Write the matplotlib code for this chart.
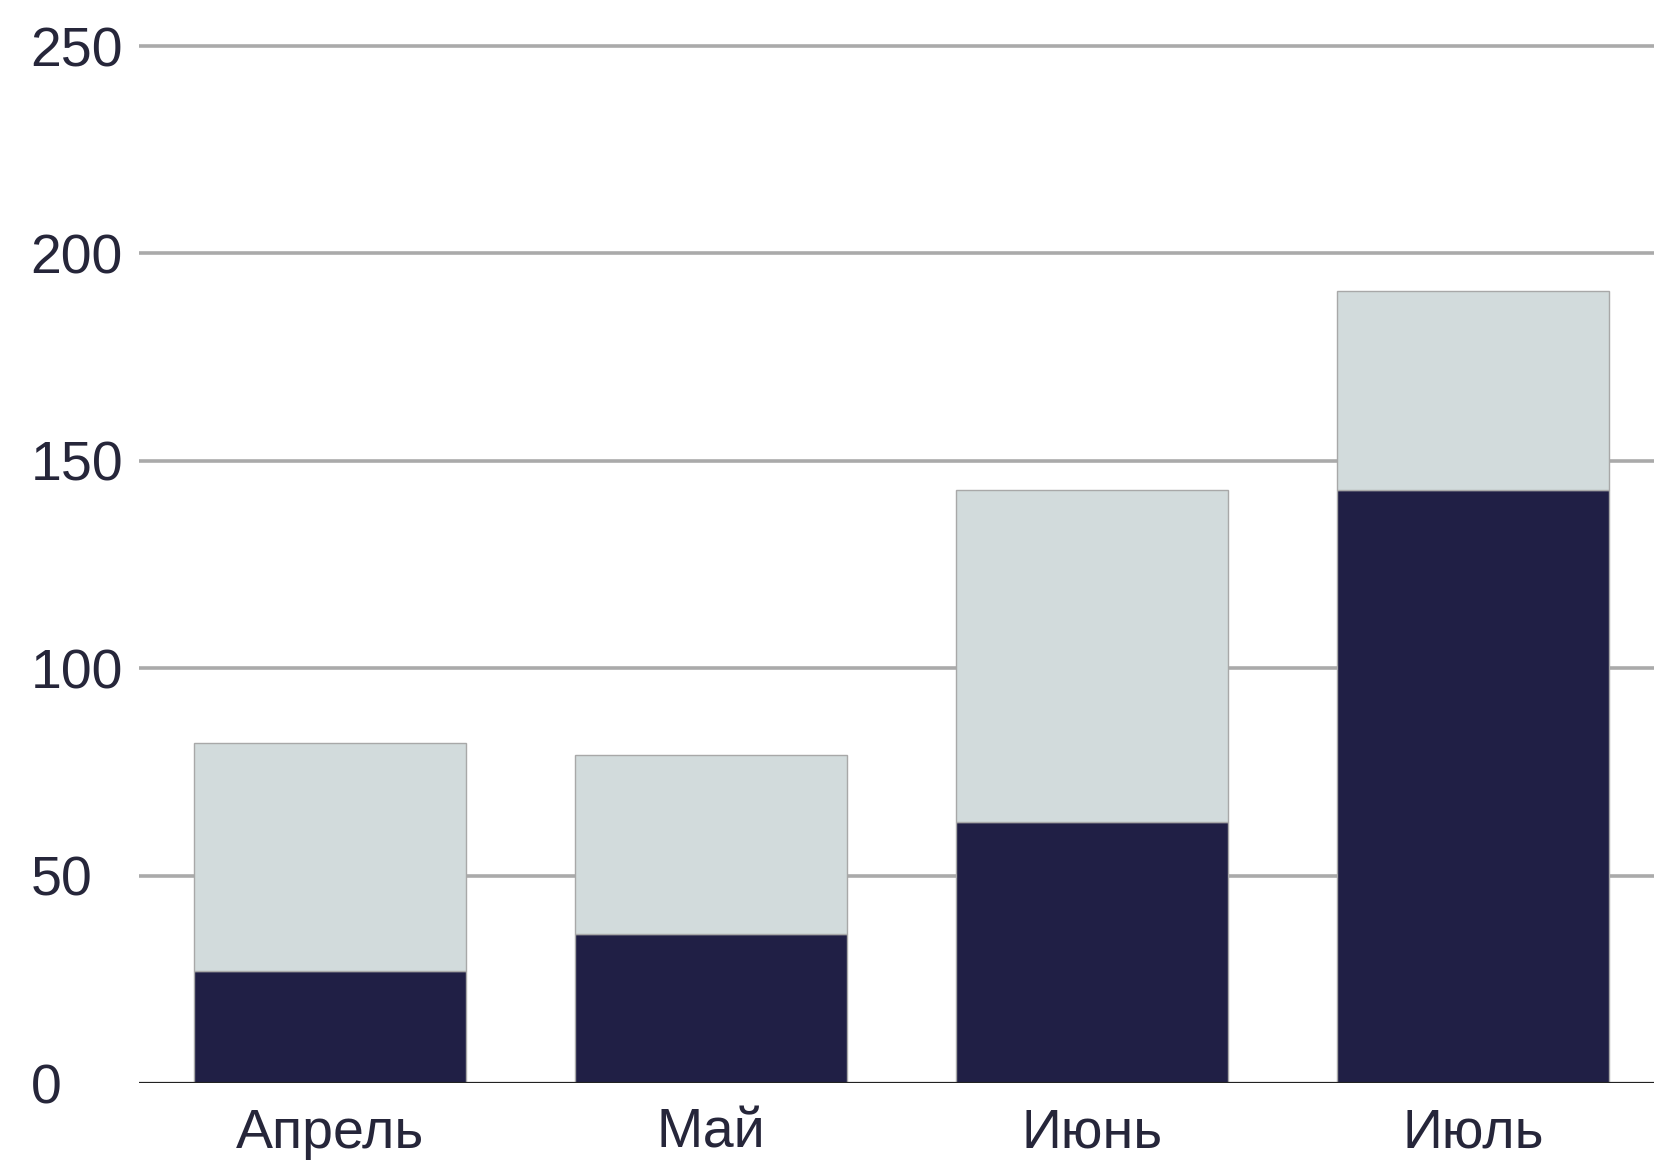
import numpy as np
import matplotlib.pyplot as plt

months = ['Апрель', 'Май', 'Июнь', 'Июль']
dark_vals = [27, 36, 63, 143]
total_vals = [82, 79, 143, 191]
light_vals = [t - d for t, d in zip(total_vals, dark_vals)]
y_ticks = [0, 50, 100, 150, 200, 250]

dark = '#201f45'
light = '#d2dbdc'
edge = '#a8a8a8'
text_col = '#26263a'

plt.rcParams['font.family'] = ['Liberation Sans', 'DejaVu Sans']

fig = plt.figure(figsize=(16.54, 11.61), dpi=100)
ax = fig.add_axes([139 / 1654, 78 / 1161, 1 - 139 / 1654, 1039 / 1161])

x = np.arange(len(months))
ax.bar(x, dark_vals, width=0.714, color=dark, edgecolor=edge, linewidth=1.0, zorder=3)
ax.bar(x, light_vals, bottom=dark_vals, width=0.714, color=light, edgecolor=edge,
       linewidth=1.0, zorder=3)

ax.set_xlim(-0.5, 3.475)
ax.set_ylim(0, 250.5)
ax.set_yticks(y_ticks)
ax.set_xticks(x)
ax.set_xticklabels(months)

for v in y_ticks[1:]:
    ax.axhline(v, color='#aaaaaa', linewidth=2.6, zorder=1)
ax.axhline(0, color='#222222', linewidth=1.6, zorder=4)

for s in ax.spines.values():
    s.set_visible(False)

ax.tick_params(axis='both', length=0, labelsize=40, colors=text_col)
# labels on the y axis sit flush left
ax.tick_params(axis='y', pad=78)
for lbl in ax.get_yticklabels():
    lbl.set_horizontalalignment('left')
ax.tick_params(axis='x', pad=18)

fig.savefig('out.png', dpi=100)
